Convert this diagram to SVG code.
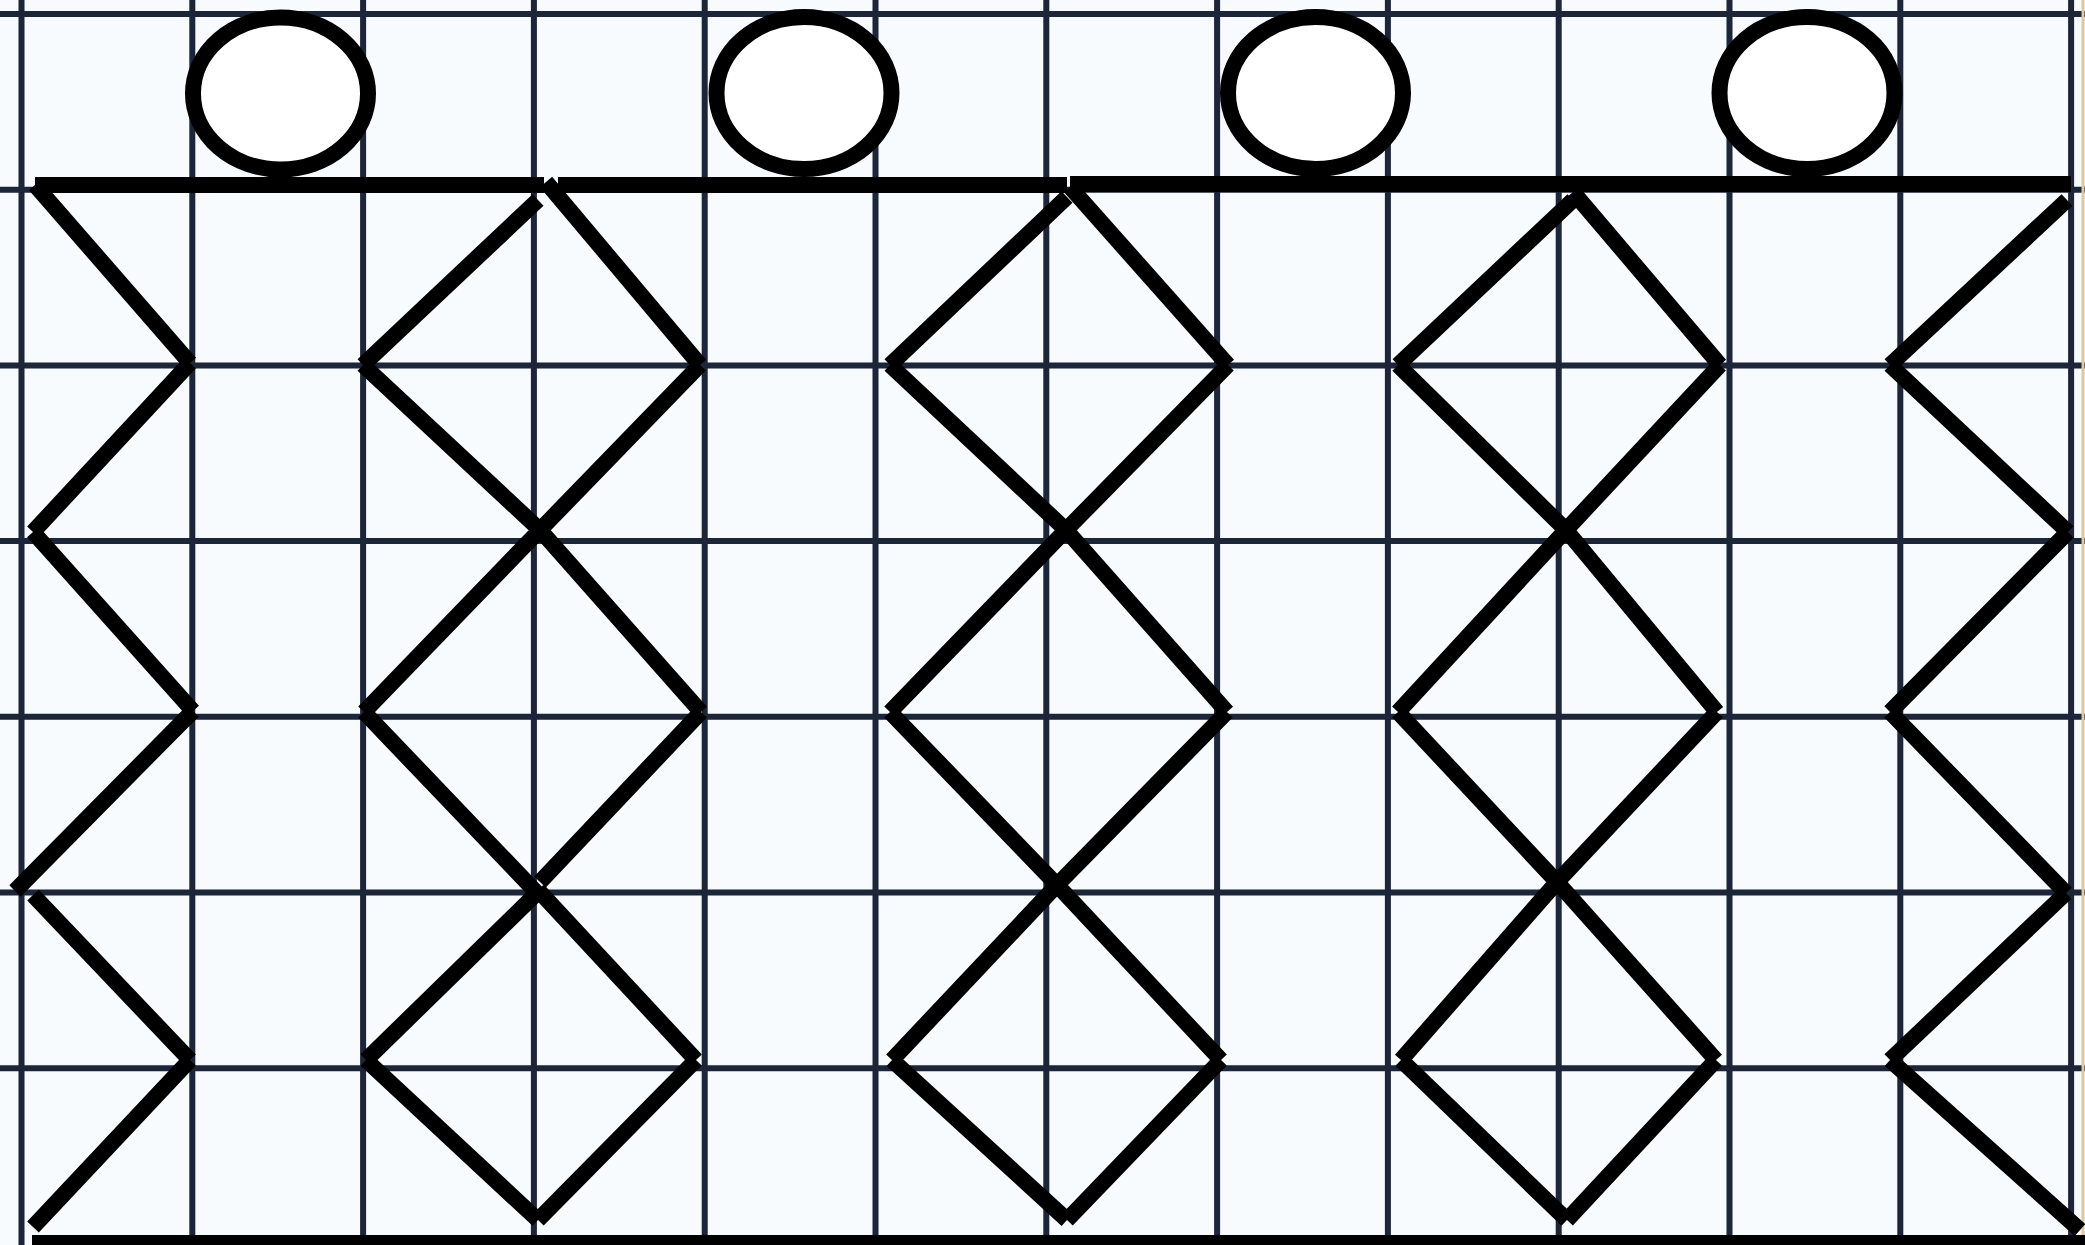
<svg xmlns="http://www.w3.org/2000/svg" width="2085" height="1245" viewBox="0 0 2085 1245">
  <defs>
    <style>
      .grid line { stroke: #1d2539; stroke-width: 6; }
      .bar { stroke: #000; stroke-width: 16; fill: none; stroke-linecap: butt; }
      .zig { stroke: #000; stroke-width: 16; fill: none; stroke-linecap: butt; }
      .head { stroke: #000; stroke-width: 16; fill: #fff; }
    </style>
    <filter id="soft" x="-1%" y="-1%" width="102%" height="102%">
      <feGaussianBlur stdDeviation="0.7"/>
    </filter>
  </defs>
  <rect x="0" y="0" width="2085" height="1245" fill="#f7fbfe"/>
  <g id="grid" class="grid" filter="url(#soft)">
    <line x1="21.5" y1="0" x2="21.5" y2="1245"/>
    <line x1="192.3" y1="0" x2="192.3" y2="1245"/>
    <line x1="363.1" y1="0" x2="363.1" y2="1245"/>
    <line x1="533.9" y1="0" x2="533.9" y2="1245"/>
    <line x1="704.7" y1="0" x2="704.7" y2="1245"/>
    <line x1="875.5" y1="0" x2="875.5" y2="1245"/>
    <line x1="1046.3" y1="0" x2="1046.3" y2="1245"/>
    <line x1="1217.1" y1="0" x2="1217.1" y2="1245"/>
    <line x1="1387.9" y1="0" x2="1387.9" y2="1245"/>
    <line x1="1558.7" y1="0" x2="1558.7" y2="1245"/>
    <line x1="1729.5" y1="0" x2="1729.5" y2="1245"/>
    <line x1="1900.3" y1="0" x2="1900.3" y2="1245"/>
    <line x1="2071.1" y1="0" x2="2071.1" y2="1245"/>
    <line x1="0" y1="14" x2="2085" y2="14"/>
    <line x1="0" y1="189.7" x2="2085" y2="189.7"/>
    <line x1="0" y1="365.4" x2="2085" y2="365.4"/>
    <line x1="0" y1="541.1" x2="2085" y2="541.1"/>
    <line x1="0" y1="716.8" x2="2085" y2="716.8"/>
    <line x1="0" y1="892.5" x2="2085" y2="892.5"/>
    <line x1="0" y1="1068.2" x2="2085" y2="1068.2"/>
  </g>
  <line x1="2083" y1="0" x2="2083" y2="1245" stroke="#e6c98e" stroke-width="3"/>
  <g id="heads">
    <ellipse id="head1" class="head" cx="280.5" cy="93.5" rx="87.5" ry="76"/>
    <ellipse id="head2" class="head" cx="804" cy="93" rx="87.5" ry="76"/>
    <ellipse id="head3" class="head" cx="1315.5" cy="93" rx="87.5" ry="76"/>
    <ellipse id="head4" class="head" cx="1807" cy="93" rx="87.5" ry="76"/>
  </g>
  <g id="bars">
    <path id="top-bar-1" class="bar" d="M35,185 H544"/>
    <path id="top-bar-2" class="bar" d="M558,185 H1067"/>
    <path id="top-bar-3" class="bar" d="M1070,184 H2071"/>
    <path id="bottom-bar" class="bar" d="M32,1243 H2085"/>
  </g>
  <g id="connectors">
    <path id="zig-a" class="zig" d="M35,185 L190,363 M190,363 L33,532 M33,532 L193,711 M193,711 L15,891 M33,895 L190,1060 M190,1060 L33,1227"/>
    <path id="zig-b1" class="zig" d="M538,200 L363,365 M363,365 L540,530 M540,530 L364,712 M364,712 L537,893 M537,893 L366,1060 M366,1060 L538,1220"/>
    <path id="zig-b2" class="zig" d="M546,182 L700,365 M700,365 L540,530 M540,530 L701,712 M701,712 L540,882 M538,890 L696,1060 M696,1060 L538,1220"/>
    <path id="zig-c1" class="zig" d="M1067,197 L890,365 M890,365 L1066,530 M1066,530 L890,712 M890,712 L1057,885 M1057,885 L892,1060 M892,1060 L1067,1220"/>
    <path id="zig-c2" class="zig" d="M1070,187 L1228,365 M1228,365 L1066,530 M1066,530 L1227,712 M1227,712 L1057,885 M1057,885 L1221,1060 M1221,1060 L1067,1220"/>
    <path id="zig-d1" class="zig" d="M1573,200 L1398,365 M1398,365 L1566,530 M1566,530 L1398,712 M1398,712 L1557,882 M1557,882 L1401,1060 M1401,1060 L1567,1220"/>
    <path id="zig-d2" class="zig" d="M1573,192 L1720,365 M1720,365 L1566,530 M1566,530 L1717,712 M1717,712 L1557,882 M1557,882 L1716,1060 M1716,1060 L1567,1220"/>
    <path id="zig-e" class="zig" d="M2067,200 L1890,365 M1890,365 L2068,532 M2068,532 L1890,712 M1890,712 L2066,893 M2066,893 L1890,1060 M1890,1060 L2080,1230"/>
  </g>
</svg>
